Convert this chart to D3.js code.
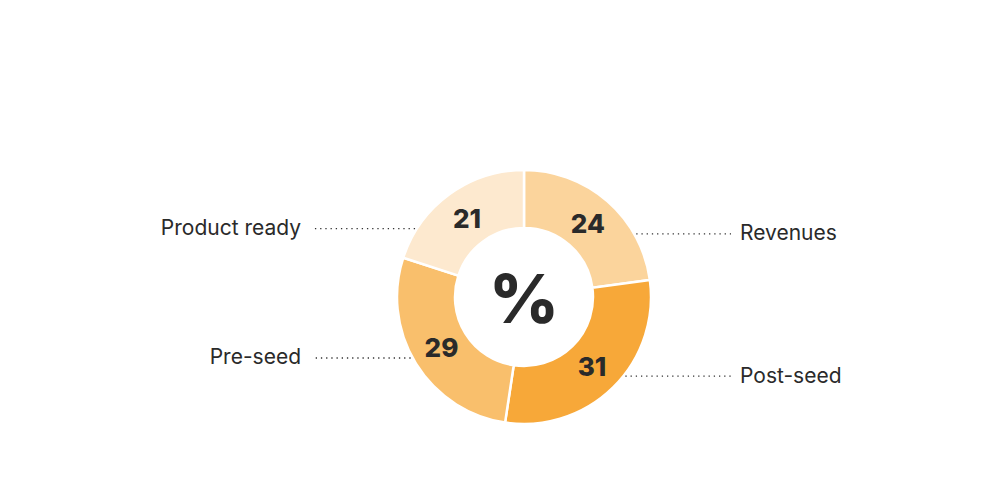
<!DOCTYPE html>
<html><head><meta charset="utf-8">
<script src="https://cdn.jsdelivr.net/npm/d3@7"></script>
<style>
html,body{margin:0;padding:0;background:#fff;}
svg{display:block;}
</style></head>
<body>
<svg id="chart" width="1000" height="500"></svg>
<script>
const categories = ["Revenues", "Post-seed", "Pre-seed", "Product ready"];
const values = [24, 31, 29, 21];
const colors = ["#fbd49c", "#f7a839", "#f9bf6c", "#fde9cf"];
const centerLabel = "%";

const svg = d3.select("#chart");
const cx = 524, cy = 297, outerR = 127, innerR = 69;
const g = svg.append("g").attr("transform", `translate(${cx},${cy})`);

const data = categories.map((c, i) => ({cat: c, value: values[i], color: colors[i]}));
const pie = d3.pie().value(d => d.value).sort(null);
const arcs = pie(data);
const arc = d3.arc().innerRadius(innerR).outerRadius(outerR);
const labelArc = d3.arc().innerRadius(97).outerRadius(97);

g.selectAll("path.slice").data(arcs).enter().append("path")
  .attr("class", "slice")
  .attr("d", arc)
  .attr("fill", d => d.data.color)
  .attr("stroke", "#fff")
  .attr("stroke-width", 2.5);

// value labels
g.selectAll("text.val").data(arcs).enter().append("text")
  .attr("class", "val")
  .attr("x", d => labelArc.centroid(d)[0])
  .attr("y", d => labelArc.centroid(d)[1])
  .attr("text-anchor", "middle")
  .attr("dominant-baseline", "central")
  .style("font-family", "Inter, 'Liberation Sans', sans-serif")
  .style("font-weight", 800)
  .style("font-size", "26px")
  .attr("fill", "#2a2a2a")
  .text(d => d.data.value);

// center %
g.append("text")
  .attr("x", 0).attr("y", 1)
  .attr("text-anchor", "middle")
  .attr("dominant-baseline", "central")
  .style("font-family", "Inter, 'Liberation Sans', sans-serif")
  .style("font-weight", 800)
  .style("font-size", "68px")
  .attr("fill", "#2a2a2a")
  .text(centerLabel);

// leader lines and category labels
const leftEnd = 314 - cx, rightEnd = 731 - cx;
arcs.forEach(d => {
  const c = labelArc.centroid(d);
  const mid = (d.startAngle + d.endAngle) / 2;
  const right = Math.sin(mid) > 0;
  const ly = c[1] + 10;
  const edgeX = Math.sqrt(Math.max(0, outerR * outerR - ly * ly)) * (right ? 1 : -1);
  const endX = right ? rightEnd : leftEnd;
  g.append("line")
    .attr("x1", edgeX + (right ? 2 : -2)).attr("x2", endX)
    .attr("y1", ly).attr("y2", ly)
    .attr("stroke", "#333")
    .attr("stroke-width", 1.3)
    .attr("stroke-dasharray", "1.3,3.9");
  g.append("text")
    .attr("x", right ? endX + 9 : endX - 13)
    .attr("y", ly - 1)
    .attr("text-anchor", right ? "start" : "end")
    .attr("dominant-baseline", "central")
    .style("font-family", "Inter, 'Noto Sans', sans-serif")
    .style("font-size", "21px")
    .attr("fill", "#2a2a2a")
    .text(d.data.cat);
});
</script>
</body></html>
